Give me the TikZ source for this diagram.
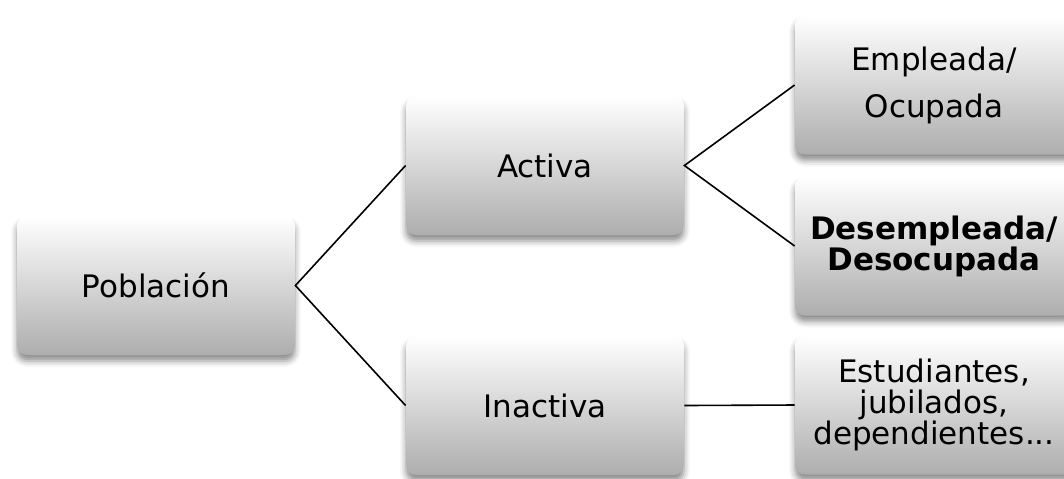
\documentclass[tikz,border=0pt]{standalone}
\usepackage{fontspec}
\setmainfont{DejaVu Sans}
\usetikzlibrary{shadows.blur}

\begin{document}
\begin{tikzpicture}[x=0.5pt,y=-0.5pt,
  caja/.style={rounded corners=5pt, minimum width=139pt, minimum height=69.5pt,
    align=center, top color=white, middle color=black!2, bottom color=black!32,
    blur shadow={shadow xshift=0pt, shadow yshift=-3pt, shadow blur radius=3pt, shadow opacity=45},
    font=\fontsize{15.5}{15.5}\selectfont},
  enlace/.style={line width=0.8pt}]
  \useasboundingbox (0,0) rectangle (1064,478);
  \clip (0,0) rectangle (1064,478);
  \node[caja] (pobl) at (156,285.5) {Población};
  \node[caja] (activa) at (545,165.5) {Activa};
  \node[caja] (inactiva) at (545,405.5) {Inactiva};
  \node[caja] (empleada) at (934,85) {Empleada/\\[8pt]Ocupada};
  \node[caja] (desemp) at (934,246) {\bfseries Desempleada/\\\bfseries Desocupada};
  \node[caja] (estud) at (934,405) {Estudiantes,\\jubilados,\\dependientes...};
  \draw[enlace] (activa.west)--(pobl.east)--(inactiva.west);
  \draw[enlace] (empleada.west)--(activa.east)--(desemp.west);
  \draw[enlace] (inactiva.east)--(estud.west);
\end{tikzpicture}
\end{document}
